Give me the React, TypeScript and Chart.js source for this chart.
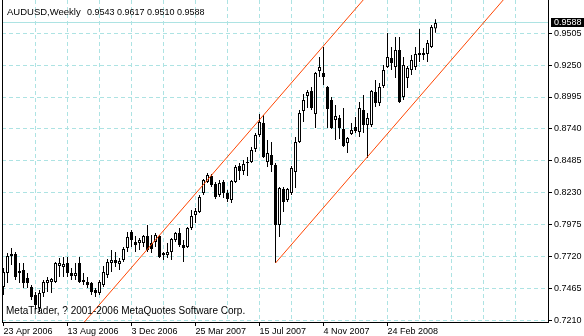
import { useEffect, useRef } from 'react';
import { Chart, registerables } from 'chart.js';

Chart.register(...registerables);

const symbolTitle = 'AUDUSD,Weekly';
const copyrightText = 'MetaTrader, ? 2001-2006 MetaQuotes Software Corp.';

// weekly candles, week 0 = 23 Apr 2006
const opens = [
  0.7475, 0.7587, 0.7723, 0.7739, 0.7603, 0.7611, 0.7547, 0.7475, 0.7411, 0.7307,
  0.7427, 0.7507, 0.7515, 0.7515, 0.7643, 0.7635, 0.7667, 0.7587, 0.7563, 0.7667,
  0.7515, 0.7515, 0.7507, 0.7451, 0.7427, 0.7491, 0.7571, 0.7667, 0.7691, 0.7659,
  0.7691, 0.7787, 0.7915, 0.7835, 0.7827, 0.7827, 0.7883, 0.7827, 0.7835, 0.7883,
  0.7747, 0.7731, 0.7755, 0.7851, 0.7907, 0.7811, 0.7795, 0.7947, 0.8051, 0.8075,
  0.8227, 0.8315, 0.8363, 0.8299, 0.8211, 0.8315, 0.8227, 0.8171, 0.8315, 0.8443,
  0.8403, 0.8467, 0.8475, 0.8579, 0.8691, 0.8787, 0.8475, 0.8531, 0.8451, 0.7971,
  0.8259, 0.8171, 0.8227, 0.8395, 0.8635, 0.8883, 0.9003, 0.9043, 0.8859, 0.9203,
  0.9187, 0.9075, 0.8971, 0.8811, 0.8827, 0.8739, 0.8627, 0.8699, 0.8755, 0.8715,
  0.8891, 0.8771, 0.8771, 0.9035, 0.8947, 0.9083, 0.9235, 0.9307, 0.9235, 0.9371,
  0.8995, 0.9147, 0.9211, 0.9235, 0.9331, 0.9347, 0.9339, 0.9395, 0.9543,
];
const highs = [
  0.7627, 0.7747, 0.7787, 0.7755, 0.7667, 0.7667, 0.7587, 0.7491, 0.7435, 0.7451,
  0.7531, 0.7555, 0.7547, 0.7675, 0.7707, 0.7715, 0.7715, 0.7627, 0.7667, 0.7715,
  0.7587, 0.7555, 0.7515, 0.7467, 0.7531, 0.7643, 0.7699, 0.7771, 0.7755, 0.7707,
  0.7795, 0.7915, 0.7931, 0.7883, 0.7867, 0.7891, 0.7971, 0.7891, 0.7907, 0.7891,
  0.7755, 0.7827, 0.7867, 0.7915, 0.7947, 0.7851, 0.7955, 0.8091, 0.8107, 0.8211,
  0.8339, 0.8387, 0.8379, 0.8315, 0.8331, 0.8331, 0.8251, 0.8331, 0.8451, 0.8467,
  0.8491, 0.8515, 0.8595, 0.8707, 0.8859, 0.8851, 0.8651, 0.8635, 0.8467, 0.8275,
  0.8275, 0.8267, 0.8443, 0.8675, 0.8891, 0.9019, 0.9051, 0.9075, 0.9195, 0.9315,
  0.9395, 0.9083, 0.8995, 0.8931, 0.8851, 0.8907, 0.8675, 0.8787, 0.8835, 0.8955,
  0.9011, 0.8867, 0.9051, 0.9131, 0.9107, 0.9251, 0.9507, 0.9395, 0.9475, 0.9475,
  0.9315, 0.9243, 0.9331, 0.9395, 0.9539, 0.9387, 0.9451, 0.9571, 0.9617,
];
const lows = [
  0.7411, 0.7507, 0.7651, 0.7531, 0.7507, 0.7467, 0.7467, 0.7371, 0.7299, 0.7275,
  0.7395, 0.7435, 0.7427, 0.7507, 0.7555, 0.7555, 0.7555, 0.7531, 0.7531, 0.7507,
  0.7491, 0.7467, 0.7411, 0.7395, 0.7411, 0.7475, 0.7547, 0.7595, 0.7635, 0.7611,
  0.7675, 0.7755, 0.7795, 0.7755, 0.7771, 0.7795, 0.7755, 0.7747, 0.7795, 0.7707,
  0.7691, 0.7707, 0.7691, 0.7835, 0.7795, 0.7675, 0.7787, 0.7931, 0.7987, 0.8067,
  0.8211, 0.8307, 0.8275, 0.8179, 0.8195, 0.8187, 0.8155, 0.8147, 0.8307, 0.8331,
  0.8371, 0.8363, 0.8467, 0.8555, 0.8675, 0.8507, 0.8435, 0.8395, 0.7667, 0.7875,
  0.8075, 0.8155, 0.8211, 0.8267, 0.8627, 0.8795, 0.8907, 0.8891, 0.8747, 0.9155,
  0.9091, 0.8747, 0.8739, 0.8651, 0.8659, 0.8595, 0.8547, 0.8691, 0.8707, 0.8675,
  0.8707, 0.8507, 0.8755, 0.8915, 0.8923, 0.9067, 0.9227, 0.9211, 0.9147, 0.8947,
  0.8971, 0.9067, 0.9171, 0.9211, 0.9275, 0.9291, 0.9275, 0.9387, 0.9510,
];
const closes = [
  0.7595, 0.7723, 0.7739, 0.7555, 0.7587, 0.7507, 0.7507, 0.7395, 0.7331, 0.7427,
  0.7515, 0.7531, 0.7539, 0.7667, 0.7667, 0.7659, 0.7587, 0.7563, 0.7587, 0.7515,
  0.7531, 0.7491, 0.7435, 0.7427, 0.7515, 0.7595, 0.7675, 0.7691, 0.7667, 0.7683,
  0.7779, 0.7875, 0.7851, 0.7811, 0.7851, 0.7883, 0.7771, 0.7779, 0.7891, 0.7715,
  0.7731, 0.7755, 0.7859, 0.7907, 0.7811, 0.7787, 0.7947, 0.8043, 0.8083, 0.8195,
  0.8331, 0.8371, 0.8291, 0.8195, 0.8307, 0.8227, 0.8179, 0.8323, 0.8435, 0.8403,
  0.8459, 0.8475, 0.8571, 0.8691, 0.8795, 0.8515, 0.8547, 0.8451, 0.7971, 0.8267,
  0.8155, 0.8259, 0.8427, 0.8635, 0.8867, 0.8971, 0.9035, 0.8907, 0.9187, 0.9235,
  0.9155, 0.8899, 0.8747, 0.8843, 0.8747, 0.8603, 0.8667, 0.8731, 0.8723, 0.8907,
  0.8771, 0.8827, 0.9043, 0.8947, 0.9075, 0.9211, 0.9315, 0.9267, 0.9371, 0.8955,
  0.9251, 0.9227, 0.9291, 0.9339, 0.9347, 0.9331, 0.9427, 0.9555, 0.9588,
];

const dateTickWeeks = [0, 16, 32, 48, 64, 80, 96];
const dateTickLabels = ['23 Apr 2006', '13 Aug 2006', '3 Dec 2006', '25 Mar 2007', '15 Jul 2007', '4 Nov 2007', '24 Feb 2008'];
const gridWeeks = [0, 8, 16, 24, 32, 40, 48, 56, 64, 72, 80, 88, 96, 104, 112, 120, 128];
const priceTicks = [0.9505, 0.925, 0.8995, 0.874, 0.8485, 0.823, 0.7975, 0.772, 0.7465, 0.721];

// channel anchors (week, price)
const channelLower = [{ week: 68, price: 0.7667 }, { week: 91, price: 0.8517 }];
const channelUpper = [{ week: 20, price: 0.7187 }, { week: 64, price: 0.8813 }];

const X_MIN = -0.375;
const X_MAX = 136.125;
const Y_MIN = 0.7195;
const Y_MAX = 0.9771;

const GRID = '#ade3e3';
const CHANNEL = '#ff4500';
const FONT = "'Liberation Sans', Arial, sans-serif";

function ray(anchors: { week: number; price: number }[]) {
  const [a, b] = anchors;
  const slope = (b.price - a.price) / (b.week - a.week);
  return [
    { x: a.week, y: a.price },
    { x: b.week, y: b.price },
    { x: X_MAX, y: a.price + slope * (X_MAX - a.week) },
  ];
}

const mtPlugin = {
  id: 'mtDecor',
  beforeDatasetsDraw(chart: any) {
    const { ctx, chartArea, scales } = chart;
    const last = closes[closes.length - 1];
    const y = Math.floor(scales.y.getPixelForValue(last));
    ctx.save();
    ctx.fillStyle = GRID;
    ctx.fillRect(chartArea.left, y, chartArea.right - chartArea.left, 1);
    ctx.restore();
  },
  afterDraw(chart: any) {
    const { ctx, chartArea, scales } = chart;
    const { left, right, top, bottom } = chartArea;
    ctx.save();
    ctx.fillStyle = '#000';
    ctx.fillRect(left, top, 1, bottom - top + 1);
    ctx.fillRect(right, top, 1, bottom - top + 1);
    ctx.fillRect(left, bottom, right - left + 1, 1);

    const n = closes.length - 1;
    const last = closes[n];
    const y = Math.floor(scales.y.getPixelForValue(last));
    ctx.fillRect(right + 3, y - 4, chart.width - right - 3, 9);
    ctx.fillStyle = '#fff';
    ctx.font = `9px ${FONT}`;
    ctx.textBaseline = 'middle';
    ctx.textAlign = 'left';
    ctx.fillText(last.toFixed(4), right + 6, y + 0.5);

    ctx.fillStyle = '#000';
    ctx.textBaseline = 'alphabetic';
    ctx.font = `9.5px ${FONT}`;
    ctx.fillText(symbolTitle, 7, 15);
    ctx.font = `9px ${FONT}`;
    const ohlc = [opens[n], highs[n], lows[n], closes[n]].map((v) => v.toFixed(4)).join(' ');
    ctx.fillText(ohlc, 87, 15);
    ctx.font = `10px ${FONT}`;
    ctx.fillText(copyrightText, 6, 314);
    ctx.restore();
  },
};

export default function App() {
  const ref = useRef<HTMLCanvasElement | null>(null);
  useEffect(() => {
    if (!ref.current) return;
    const bodyColors = opens.map((o, i) => (closes[i] >= o ? '#ffffff' : '#000000'));
    const chart = new Chart(ref.current, {
      type: 'bar',
      data: {
        datasets: [
          {
            type: 'line',
            data: ray(channelLower),
            borderColor: CHANNEL,
            borderWidth: 1,
            pointRadius: 0,
            fill: false,
            order: 0,
          } as any,
          {
            type: 'line',
            data: ray(channelUpper),
            borderColor: CHANNEL,
            borderWidth: 1,
            pointRadius: 0,
            fill: false,
            order: 0,
          } as any,
          {
            type: 'bar',
            data: opens.map((o, i) => ({ x: i, y: [o, closes[i]] })),
            backgroundColor: bodyColors,
            borderColor: '#000',
            borderWidth: 1,
            borderSkipped: false,
            barThickness: 3,
            grouped: false,
            inflateAmount: 0,
            order: 1,
          } as any,
          {
            type: 'bar',
            data: opens.map((_, i) => ({ x: i, y: [lows[i], highs[i]] })),
            backgroundColor: '#000',
            borderWidth: 0,
            barThickness: 1,
            grouped: false,
            inflateAmount: 0,
            order: 2,
          } as any,
        ],
      },
      options: {
        responsive: false,
        animation: false,
        events: [],
        layout: { padding: { left: 2, top: 0, right: 0, bottom: 0 } },
        plugins: { legend: { display: false }, tooltip: { enabled: false } },
        scales: {
          x: {
            type: 'linear',
            min: X_MIN,
            max: X_MAX,
            offset: false,
            afterBuildTicks: (s: any) => {
              s.ticks = gridWeeks.map((v) => ({ value: v }));
            },
            afterFit: (s: any) => {
              s.height = 14;
              s.paddingLeft = 0;
              s.paddingRight = 0;
            },
            grid: {
              offset: false,
              color: (c: any) => (c.tick && c.tick.value === 0 ? 'rgba(0,0,0,0)' : GRID),
              tickColor: (c: any) => (c.tick && dateTickWeeks.includes(c.tick.value) ? '#000' : 'rgba(0,0,0,0)'),
              tickLength: 4,
              lineWidth: 1,
            },
            border: { display: false, dash: [4, 3] },
            ticks: {
              autoSkip: false,
              maxRotation: 0,
              minRotation: 0,
              align: 'start',
              padding: 0,
              color: '#000',
              font: { family: FONT, size: 9 },
              callback: (v: any) => {
                const k = dateTickWeeks.indexOf(Number(v));
                return k >= 0 ? dateTickLabels[k] : '';
              },
            },
          } as any,
          y: {
            type: 'linear',
            position: 'right',
            min: Y_MIN,
            max: Y_MAX,
            afterBuildTicks: (s: any) => {
              s.ticks = priceTicks.map((v) => ({ value: v }));
            },
            afterFit: (s: any) => {
              s.width = 36;
              s.paddingTop = 0;
              s.paddingBottom = 0;
            },
            grid: { color: GRID, tickColor: '#000', tickLength: 4, lineWidth: 1 },
            border: { display: false, dash: [4, 3] },
            ticks: {
              padding: 2,
              color: '#000',
              font: { family: FONT, size: 9 },
              callback: (v: any) => Number(v).toFixed(4),
            },
          } as any,
        },
      },
      plugins: [mtPlugin],
    });
    return () => chart.destroy();
  }, []);

  return (
    <div style={{ position: 'fixed', left: 0, top: 0, width: 584, height: 336, background: '#fff' }}>
      <canvas ref={ref} width={584} height={336} style={{ display: 'block' }} />
    </div>
  );
}
